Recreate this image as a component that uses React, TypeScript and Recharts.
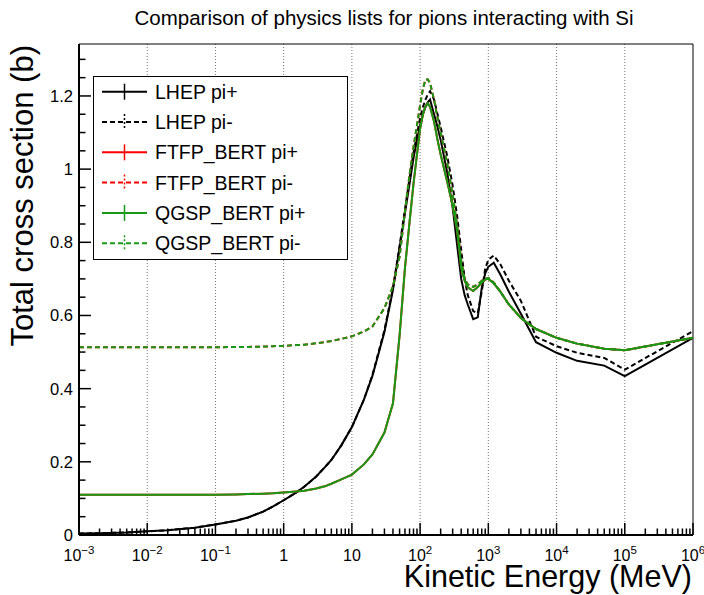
import { LineChart, Line, XAxis, YAxis, CartesianGrid, ReferenceArea, Legend } from "recharts";

// Kinetic energy grid (MeV) shared by all six graphs
const energyMeV = [
  0.001, 0.002, 0.005, 0.01, 0.02, 0.05, 0.1, 0.2, 0.3, 0.5, 0.7, 1, 1.5, 2, 3, 4, 5, 7, 10, 15, 20, 30, 40, 50, 60, 70, 80, 90,
  100, 110, 120, 130, 140, 160, 180, 200, 250, 300, 350, 400, 450, 500, 600, 700, 800, 900,
  1000, 1200, 1500, 2000, 3000, 5000, 10000, 20000, 50000, 100000, 1000000,
];

// Total cross section (b)
const lhepPiPlus = [
  0.004, 0.005, 0.007, 0.01, 0.013, 0.02, 0.029, 0.039, 0.048, 0.064, 0.078, 0.095, 0.115, 0.132, 0.16, 0.185, 0.205, 0.245, 0.295, 0.37, 0.435, 0.555, 0.67, 0.785, 0.88, 0.96, 1.03, 1.08,
  1.12, 1.15, 1.17, 1.183, 1.19, 1.15, 1.115, 1.08, 0.99, 0.895, 0.79, 0.7, 0.655, 0.63, 0.59, 0.595, 0.675, 0.715,
  0.733, 0.744, 0.712, 0.665, 0.605, 0.527, 0.498, 0.476, 0.463, 0.434, 0.539,
];
const lhepPiMinus = [
  0.004, 0.005, 0.007, 0.01, 0.013, 0.02, 0.029, 0.039, 0.048, 0.064, 0.078, 0.095, 0.115, 0.132, 0.16, 0.185, 0.205, 0.245, 0.295, 0.37, 0.437, 0.56, 0.675, 0.79, 0.89, 0.975, 1.045, 1.095,
  1.14, 1.17, 1.19, 1.205, 1.213, 1.19, 1.15, 1.115, 1.035, 0.955, 0.87, 0.78, 0.7, 0.655, 0.612, 0.606, 0.665, 0.728,
  0.752, 0.764, 0.74, 0.695, 0.64, 0.542, 0.516, 0.498, 0.484, 0.452, 0.557,
];
const qgspPiPlus = [
  0.11, 0.11, 0.11, 0.11, 0.11, 0.11, 0.11, 0.111, 0.112, 0.113, 0.114, 0.116, 0.119, 0.121, 0.127, 0.133, 0.14, 0.152, 0.165, 0.193, 0.22, 0.28, 0.36, 0.545, 0.73, 0.855, 0.96, 1.04,
  1.11, 1.15, 1.172, 1.18, 1.17, 1.13, 1.08, 1.04, 0.965, 0.9, 0.83, 0.73, 0.695, 0.677, 0.667, 0.678, 0.69, 0.698,
  0.7, 0.688, 0.665, 0.63, 0.593, 0.563, 0.539, 0.523, 0.509, 0.505, 0.539,
];
const qgspPiMinus = [
  0.513, 0.513, 0.513, 0.513, 0.513, 0.513, 0.513, 0.514, 0.514, 0.515, 0.516, 0.517, 0.519, 0.52, 0.524, 0.527, 0.53, 0.536, 0.543, 0.556, 0.57, 0.62, 0.68, 0.76, 0.885, 0.985, 1.06, 1.12,
  1.175, 1.22, 1.245, 1.245, 1.235, 1.19, 1.14, 1.1, 1.015, 0.93, 0.845, 0.75, 0.7, 0.685, 0.678, 0.685, 0.695, 0.7,
  0.703, 0.69, 0.665, 0.63, 0.593, 0.563, 0.539, 0.523, 0.509, 0.505, 0.539,
];
// FTFP_BERT coincides with QGSP_BERT over this range (drawn underneath)
const ftfpPiPlus = qgspPiPlus;
const ftfpPiMinus = qgspPiMinus;

const seriesNames = ["LHEP pi+", "LHEP pi-", "FTFP_BERT pi+", "FTFP_BERT pi-", "QGSP_BERT pi+", "QGSP_BERT pi-"];
const seriesKeys = ["lhepPlus", "lhepMinus", "ftfpPlus", "ftfpMinus", "qgspPlus", "qgspMinus"];
const seriesColors = ["#000000", "#000000", "#ff0000", "#ff0000", "#169a16", "#169a16"];
const seriesDashes = [undefined, "5 3", undefined, "5 3", undefined, "5 3"];

const xMajorTicks = [0.001, 0.01, 0.1, 1, 10, 100, 1000, 10000, 100000, 1000000];
const xTickBase = ["10", "10", "10", "1", "10", "10", "10", "10", "10", "10"];
const xTickExp = ["\u22123", "\u22122", "\u22121", "", "", "2", "3", "4", "5", "6"];
const xMinorSteps = [2, 3, 4, 5, 6, 7, 8, 9];

const yMajorTicks = [0, 0.2, 0.4, 0.6, 0.8, 1, 1.2];
const yTickLabels = ["0", "0.2", "0.4", "0.6", "0.8", "1", "1.2"];
const yMinorTicks = [0.05, 0.1, 0.15, 0.25, 0.3, 0.35, 0.45, 0.5, 0.55, 0.65, 0.7, 0.75, 0.85, 0.9, 0.95, 1.05, 1.1, 1.15, 1.25, 1.3];
const yTop = 1.342;

const FONT = "'Liberation Sans', Arial, Helvetica, sans-serif";

const rows = energyMeV.map((e, i) => ({
  e,
  lhepPlus: lhepPiPlus[i],
  lhepMinus: lhepPiMinus[i],
  ftfpPlus: ftfpPiPlus[i],
  ftfpMinus: ftfpPiMinus[i],
  qgspPlus: qgspPiPlus[i],
  qgspMinus: qgspPiMinus[i],
}));

const xTicks = [
  ...xMajorTicks,
  ...xMajorTicks.slice(0, -1).flatMap((d) => xMinorSteps.map((k) => k * d)),
];
const yTicks = [...yMajorTicks, ...yMinorTicks];

// ticks point into the frame, ROOT style; labels only on the major ones
function XTick({ x, y, payload }: { x?: number; y?: number; payload?: { value: number } }) {
  if (x == null || y == null || !payload) return null;
  const i = xMajorTicks.indexOf(payload.value);
  const major = i >= 0;
  return (
    <g>
      <line x1={x} x2={x} y1={y} y2={y - (major ? 12 : 6.5)} stroke="#000" strokeWidth={1.5} />
      {major && (
        <text x={x} y={y + 26} textAnchor="middle" fontSize={16} fontFamily={FONT} fill="#000">
          {xTickBase[i]}
          {xTickExp[i] && (
            <tspan dy={-7} fontSize={11.5}>
              {xTickExp[i]}
            </tspan>
          )}
        </text>
      )}
    </g>
  );
}

function YTick({ x, y, payload }: { x?: number; y?: number; payload?: { value: number } }) {
  if (x == null || y == null || !payload) return null;
  const i = yMajorTicks.indexOf(payload.value);
  const major = i >= 0;
  return (
    <g>
      <line x1={x} x2={x + (major ? 12 : 6.5)} y1={y} y2={y} stroke="#000" strokeWidth={1.5} />
      {major && (
        <text x={x - 6} y={y + 6} textAnchor="end" fontSize={16.5} fontFamily={FONT} fill="#000">
          {yTickLabels[i]}
        </text>
      )}
    </g>
  );
}

function LegendBox() {
  return (
    <svg width={256} height={185} style={{ display: "block" }}>
      <rect x={0.5} y={0.5} width={254} height={183} fill="#fff" stroke="#000" strokeWidth={1} />
      {seriesNames.map((name, i) => {
        const cy = 15.7 + i * 30.3;
        return (
          <g key={name}>
            <line x1={9} x2={54} y1={cy} y2={cy} stroke={seriesColors[i]} strokeWidth={2} strokeDasharray={seriesDashes[i]} />
            <line x1={31.5} x2={31.5} y1={cy - 8} y2={cy + 8} stroke={seriesColors[i]} strokeWidth={1.5} strokeDasharray={seriesDashes[i] ? "2 2" : undefined} />
            <text x={62} y={cy + 7} fontSize={19.5} fontFamily={FONT} fill="#000">
              {name}
            </text>
          </g>
        );
      })}
    </svg>
  );
}

export default function App() {
  return (
    <div style={{ position: "absolute", left: 0, top: 0, width: 704, height: 595, background: "#fff" }}>
      <LineChart width={704} height={595} data={rows} margin={{ top: 44, right: 11, bottom: 30, left: 49 }}>
        <CartesianGrid horizontal={false} verticalValues={xMajorTicks.slice(1, -1)} stroke="#777" strokeDasharray="1 2" />
        <XAxis
          dataKey="e"
          type="number"
          scale="log"
          domain={[0.001, 1000000]}
          allowDataOverflow
          ticks={xTicks}
          interval={0}
          tickSize={0}
          tickMargin={0}
          height={30}
          axisLine={{ stroke: "#000", strokeWidth: 2 }}
          tickLine={false}
          tick={(p: any) => <XTick {...p} />}
        />
        <YAxis
          type="number"
          domain={[0, yTop]}
          allowDataOverflow
          ticks={yTicks}
          interval={0}
          tickSize={0}
          tickMargin={0}
          width={30}
          axisLine={{ stroke: "#000", strokeWidth: 2 }}
          tickLine={false}
          tick={(p: any) => <YTick {...p} />}
        />
        <ReferenceArea x1={0.001} x2={1000000} y1={0} y2={yTop} fill="none" fillOpacity={0} stroke="#000" strokeWidth={1} />
        {seriesKeys.map((k, i) => (
          <Line
            key={k}
            type="linear"
            dataKey={k}
            name={seriesNames[i]}
            stroke={seriesColors[i]}
            strokeWidth={2}
            strokeDasharray={seriesDashes[i]}
            dot={false}
            activeDot={false}
            isAnimationActive={false}
          />
        ))}
        <Legend
          layout="vertical"
          align="center"
          verticalAlign="middle"
          content={() => <LegendBox />}
          wrapperStyle={{ position: "absolute", left: 93, top: 76, width: 256, height: 185 }}
        />
      </LineChart>
      <svg width={704} height={595} style={{ position: "absolute", left: 0, top: 0, pointerEvents: "none" }}>
        <text x={384} y={25} textAnchor="middle" fontSize={20.5} fontFamily={FONT} fill="#000">
          Comparison of physics lists for pions interacting with Si
        </text>
        <text x={33} y={45} transform="rotate(-90 33 45)" textAnchor="end" fontSize={31} fontFamily={FONT} fill="#000">
          Total cross section (b)
        </text>
        <text x={692} y={587} textAnchor="end" fontSize={30.5} fontFamily={FONT} fill="#000">
          Kinetic Energy (MeV)
        </text>
      </svg>
    </div>
  );
}
